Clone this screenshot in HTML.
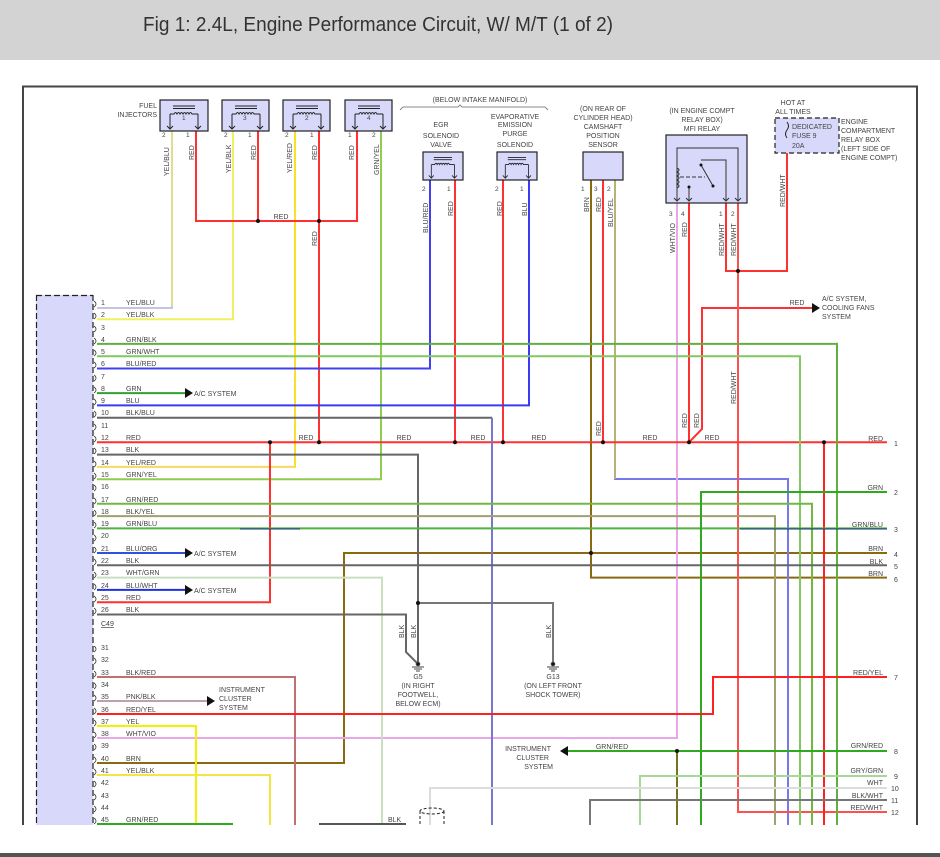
<!DOCTYPE html>
<html><head><meta charset="utf-8"><style>
html,body{margin:0;padding:0;background:#fff;}
svg{display:block;}
text{font-family:"Liberation Sans",sans-serif;fill:#444;}
</style></head><body>
<svg width="940" height="857" viewBox="0 0 940 857" xmlns="http://www.w3.org/2000/svg">
<defs>
<clipPath id="cl"><rect x="0" y="60" width="940" height="765"/></clipPath>
<g id="coil">
<line x1="13" y1="6" x2="35" y2="6" stroke="#222" stroke-width="1"/>
<line x1="13" y1="8.5" x2="35" y2="8.5" stroke="#222" stroke-width="1"/>
<path d="M10 14 L14 14 q1.5-3 3 0 q1.5-3 3 0 q1.5-3 3 0 q1.5-3 3 0 q1.5-3 3 0 q1.5-3 3 0 L38 14" fill="none" stroke="#222" stroke-width="1"/>
<path d="M10 14 V29 M38 14 V29 M7 26 L10 29 L13 26 M35 26 L38 29 L41 26" fill="none" stroke="#222" stroke-width="1"/>
</g>
</defs>
<rect x="0" y="0" width="940" height="60" fill="#d3d3d3"/>
<text x="143" y="31" font-size="20" textLength="470" lengthAdjust="spacingAndGlyphs" style="fill:#333">Fig 1: 2.4L, Engine Performance Circuit, W/ M/T (1 of 2)</text>
<rect x="0" y="853" width="940" height="4" fill="#555"/>

<g clip-path="url(#cl)" font-size="7">
<path d="M23 830 V86.5 H917 V830" fill="none" stroke="#444" stroke-width="2"/>
<rect x="36" y="295" width="57" height="540" fill="#d8d8fa"/>
<path d="M36.5 295 V835 M36 295.5 H93 M93 295 V835" fill="none" stroke="#222" stroke-width="1.2" stroke-dasharray="6,3"/>

<g fill="none" stroke-width="2">
<path d="M172 131 V308 H97" stroke="#c4c4e0"/>
<path d="M172 131 V306" stroke="#f0f060" stroke-width="1.2"/>
<path d="M233 131 V319.3 H97" stroke="#f0f060"/>
<path d="M295 131 V466.9 H97" stroke="#f8d860"/>
<path d="M295 131 V466.9" stroke="#f6e800" stroke-width="1.2"/>
<path d="M381 131 V479.2 H97" stroke="#90cc50"/>
<path d="M196 131 V221 H357 V131" stroke="#ff3030"/>
<path d="M258 131 V221 M319 131 V442.3" stroke="#ff3030"/>
<path d="M430 180 V368.5 H97" stroke="#4040f0"/>
<path d="M455 180 V442.3 M503 180 V442.3" stroke="#ff3030"/>
<path d="M529 180 V405.4 H97" stroke="#3a3af5"/>
<path d="M591 180 V577.6 H887" stroke="#8a6a10"/>
<path d="M887 553 H344 V763 H97" stroke="#8a6a10"/>
<path d="M603 180 V442.3" stroke="#ff3030"/>
<path d="M615 180 V479 H788 V830" stroke="#7777ee"/>
<path d="M615 180 V479" stroke="#f0f000" stroke-width="1"/>
<path d="M677 203 V738 H97" stroke="#e8a8e8"/>
<path d="M689 203 V442.3" stroke="#ff3030"/>
<path d="M689 442.3 L702 429 V308 H812" stroke="#ff3030"/>
<path d="M726 203 V271 H787 V153" stroke="#ff3030"/>
<path d="M738 203 V812 H887" stroke="#ff5050"/>
<path d="M97 442.3 H887" stroke="#ff3030"/>
<path d="M270 442.3 V602.2 H97" stroke="#ff3030"/>
<path d="M824 442.3 V830" stroke="#ff2020"/>
<path d="M97 343.9 H837 V830" stroke="#60b040"/>
<path d="M97 356.2 H800 V830" stroke="#80c860"/>
<path d="M97 393.1 H185" stroke="#30a030"/>
<path d="M97 417.7 H492" stroke="#666"/>
<path d="M492 417.7 V830" stroke="#7777cc"/>
<path d="M97 454.6 H418 V664" stroke="#666"/>
<path d="M418 603 H553 V664" stroke="#777"/>
<path d="M97 503.8 H812 V830" stroke="#70b840"/>
<path d="M97 516.1 H775 V830" stroke="#a0a070"/>
<path d="M97 528.4 H887" stroke="#50b040"/>
<path d="M240 529 H300 M740 529 H887" stroke="#103080" stroke-width="1"/>
<path d="M701 830 V492 H887" stroke="#30a820"/>
<path d="M97 553 H185" stroke="#3050e0"/>
<path d="M97 565.3 H887" stroke="#666"/>
<path d="M97 577.6 H382 V830" stroke="#c8e0c0"/>
<path d="M97 589.9 H185" stroke="#2030e0"/>
<path d="M97 614.5 H406 V652 L418 664" stroke="#666"/>
<path d="M97 677 H295 V830" stroke="#c07070"/>
<path d="M97 701 H207" stroke="#c0a0b0"/>
<path d="M97 714 H713 V677 H887" stroke="#ff2020"/>
<path d="M97 726 H196 V830" stroke="#f4f000"/>
<path d="M97 775 H270 V830" stroke="#f0e840"/>
<path d="M97 824 H233" stroke="#30a820"/>
<path d="M319 824 H406" stroke="#555"/>
<path d="M562 751 H887" stroke="#30a820"/>
<path d="M677 751 V830" stroke="#30a820"/>
<path d="M677 753 V830" stroke="#e02020" stroke-width="0.8"/>
<path d="M640 830 V776 H887" stroke="#a8d898"/>
<path d="M430 830 V788 H887" stroke="#dcdcdc"/>
<path d="M590 830 V800 H887" stroke="#777"/>
</g>
<g fill="#111">
<path d="M185 388 L193 393 L185 398 Z"/>
<path d="M185 548 L193 553 L185 558 Z"/>
<path d="M185 585 L193 590 L185 595 Z"/>
<path d="M207 696 L215 701 L207 706 Z"/>
<path d="M812 303 L820 308 L812 313 Z"/>
<path d="M568 746 L560 751 L568 756 Z"/>
</g>
<g fill="#111">
<circle cx="258" cy="221" r="2"/><circle cx="319" cy="221" r="2"/>
<circle cx="270" cy="442.3" r="2"/><circle cx="319" cy="442.3" r="2"/><circle cx="455" cy="442.3" r="2"/>
<circle cx="503" cy="442.3" r="2"/><circle cx="603" cy="442.3" r="2"/><circle cx="689" cy="442.3" r="2"/>
<circle cx="824" cy="442.3" r="2"/><circle cx="591" cy="553" r="2"/><circle cx="738" cy="271" r="2"/>
<circle cx="418" cy="603" r="2"/><circle cx="677" cy="751" r="2"/>
</g>
<g stroke="#444" stroke-width="1">
<circle cx="418" cy="664" r="1.8" fill="#111"/><path d="M412 667 H424 M414 669 H422 M416 671 H420"/>
<circle cx="553" cy="664" r="1.8" fill="#111"/><path d="M547 667 H559 M549 669 H557 M551 671 H555"/>
</g>
<g fill="#d8d8fa" stroke="#222" stroke-width="1.2">
<rect x="160" y="100" width="48" height="31"/><rect x="222" y="100" width="47" height="31"/>
<rect x="283" y="100" width="47" height="31"/><rect x="345" y="100" width="47" height="31"/>
<rect x="423" y="152" width="40" height="28"/><rect x="497" y="152" width="40" height="28"/>
<rect x="583" y="152" width="40" height="28"/><rect x="666" y="135" width="81" height="68"/>
</g>
<use href="#coil" transform="translate(160,100)"/><use href="#coil" transform="translate(222,100)"/>
<use href="#coil" transform="translate(283,100)"/><use href="#coil" transform="translate(345,100)"/>
<use href="#coil" transform="translate(423,152) scale(0.83,0.9)"/><use href="#coil" transform="translate(497,152) scale(0.83,0.9)"/>
<g fill="none" stroke="#333" stroke-width="1">
<path d="M677 201 V148 H738 V201 M726 201 V160 H701"/>
<path d="M677 168 q4 2 0 4 q4 2 0 4 q4 2 0 4 q4 2 0 4 q4 2 0 4"/>
<path d="M680 177 H705" stroke-dasharray="4,2"/>
<path d="M701 165 L713 186"/>
<path d="M689 201 V187"/>
<path d="M674 198 L677 201 L680 198 M686 198 L689 201 L692 198 M723 198 L726 201 L729 198 M735 198 L738 201 L741 198"/>
</g>
<g fill="#111"><circle cx="701" cy="165" r="1.5"/><circle cx="713" cy="186" r="1.5"/><circle cx="689" cy="187" r="1.5"/></g>
<rect x="775" y="118" width="64" height="35" fill="#d8d8fa" stroke="#222" stroke-width="1.2" stroke-dasharray="5,3"/>
<path d="M787 122 q3 4 0 8 q-3 4 0 8" fill="none" stroke="#222"/>
<path d="M400 110 L403 107 H458 L460 105 L462 107 H545 L548 110" fill="none" stroke="#888"/>
<ellipse cx="432" cy="811" rx="12" ry="3" fill="none" stroke="#222" stroke-dasharray="3,2"/>
<path d="M420 811 V830 M444 811 V830" stroke="#222" stroke-dasharray="3,2"/>

<g fill="none" stroke="#333" stroke-width="0.8">
<path d="M94 301 q4 3 0 6 M94 313 q4 3 0 6 M94 326 q4 3 0 6 M94 338 q4 3 0 6 M94 350 q4 3 0 6 M94 362 q4 3 0 6 M94 375 q4 3 0 6 M94 387 q4 3 0 6 M94 399 q4 3 0 6 M94 411 q4 3 0 6 M94 424 q4 3 0 6 M94 436 q4 3 0 6 M94 448 q4 3 0 6 M94 461 q4 3 0 6 M94 473 q4 3 0 6 M94 485 q4 3 0 6 M94 498 q4 3 0 6 M94 510 q4 3 0 6 M94 522 q4 3 0 6 M94 535 q4 3 0 6 M94 547 q4 3 0 6 M94 559 q4 3 0 6 M94 572 q4 3 0 6 M94 584 q4 3 0 6 M94 596 q4 3 0 6 M94 608 q4 3 0 6"/>
<path d="M94 646 q4 3 0 6 M94 658 q4 3 0 6 M94 671 q4 3 0 6 M94 683 q4 3 0 6 M94 695 q4 3 0 6 M94 708 q4 3 0 6 M94 720 q4 3 0 6 M94 732 q4 3 0 6 M94 744 q4 3 0 6 M94 757 q4 3 0 6 M94 769 q4 3 0 6 M94 781 q4 3 0 6 M94 794 q4 3 0 6 M94 806 q4 3 0 6 M94 818 q4 3 0 6"/>
</g>
<g>
<text x="101" y="305">1</text><text x="126" y="305">YEL/BLU</text>
<text x="101" y="317">2</text><text x="126" y="317">YEL/BLK</text>
<text x="101" y="330">3</text>
<text x="101" y="342">4</text><text x="126" y="342">GRN/BLK</text>
<text x="101" y="354">5</text><text x="126" y="354">GRN/WHT</text>
<text x="101" y="366">6</text><text x="126" y="366">BLU/RED</text>
<text x="101" y="379">7</text>
<text x="101" y="391">8</text><text x="126" y="391">GRN</text>
<text x="101" y="403">9</text><text x="126" y="403">BLU</text>
<text x="101" y="415">10</text><text x="126" y="415">BLK/BLU</text>
<text x="101" y="428">11</text>
<text x="101" y="440">12</text><text x="126" y="440">RED</text>
<text x="101" y="452">13</text><text x="126" y="452">BLK</text>
<text x="101" y="465">14</text><text x="126" y="465">YEL/RED</text>
<text x="101" y="477">15</text><text x="126" y="477">GRN/YEL</text>
<text x="101" y="489">16</text>
<text x="101" y="502">17</text><text x="126" y="502">GRN/RED</text>
<text x="101" y="514">18</text><text x="126" y="514">BLK/YEL</text>
<text x="101" y="526">19</text><text x="126" y="526">GRN/BLU</text>
<text x="101" y="538">20</text>
<text x="101" y="551">21</text><text x="126" y="551">BLU/ORG</text>
<text x="101" y="563">22</text><text x="126" y="563">BLK</text>
<text x="101" y="575">23</text><text x="126" y="575">WHT/GRN</text>
<text x="101" y="588">24</text><text x="126" y="588">BLU/WHT</text>
<text x="101" y="600">25</text><text x="126" y="600">RED</text>
<text x="101" y="612">26</text><text x="126" y="612">BLK</text>
<text x="101" y="626" text-decoration="underline">C49</text>
<text x="101" y="650">31</text><text x="101" y="662">32</text>
<text x="101" y="675">33</text><text x="126" y="675">BLK/RED</text>
<text x="101" y="687">34</text>
<text x="101" y="699">35</text><text x="126" y="699">PNK/BLK</text>
<text x="101" y="712">36</text><text x="126" y="712">RED/YEL</text>
<text x="101" y="724">37</text><text x="126" y="724">YEL</text>
<text x="101" y="736">38</text><text x="126" y="736">WHT/VIO</text>
<text x="101" y="748">39</text>
<text x="101" y="761">40</text><text x="126" y="761">BRN</text>
<text x="101" y="773">41</text><text x="126" y="773">YEL/BLK</text>
<text x="101" y="785">42</text><text x="101" y="798">43</text><text x="101" y="810">44</text>
<text x="101" y="822">45</text><text x="126" y="822">GRN/RED</text>
<text x="388" y="822">BLK</text>
</g>
<g text-anchor="end">
<text x="883" y="441">RED</text><text x="883" y="490">GRN</text><text x="883" y="527">GRN/BLU</text>
<text x="883" y="551">BRN</text><text x="883" y="564">BLK</text><text x="883" y="576">BRN</text>
<text x="883" y="675">RED/YEL</text><text x="883" y="748">GRN/RED</text><text x="883" y="773">GRY/GRN</text>
<text x="883" y="785">WHT</text><text x="883" y="798">BLK/WHT</text><text x="883" y="810">RED/WHT</text>
</g>
<g>
<text x="894" y="446">1</text><text x="894" y="495">2</text><text x="894" y="532">3</text>
<text x="894" y="557">4</text><text x="894" y="569">5</text><text x="894" y="582">6</text>
<text x="894" y="680">7</text><text x="894" y="754">8</text><text x="894" y="779">9</text>
<text x="891" y="791">10</text><text x="891" y="803">11</text><text x="891" y="815">12</text>
</g>
<g text-anchor="middle">
<text x="281" y="219">RED</text>
<text x="306" y="440">RED</text><text x="404" y="440">RED</text><text x="478" y="440">RED</text>
<text x="539" y="440">RED</text><text x="650" y="440">RED</text><text x="712" y="440">RED</text>
<text x="797" y="305">RED</text>
<text x="612" y="749">GRN/RED</text>
</g>
<text x="194" y="396">A/C SYSTEM</text>
<text x="194" y="556">A/C SYSTEM</text>
<text x="194" y="593">A/C SYSTEM</text>
<text x="219" y="692">INSTRUMENT</text><text x="219" y="701">CLUSTER</text><text x="219" y="710">SYSTEM</text>
<text x="822" y="301">A/C SYSTEM,</text><text x="822" y="310">COOLING FANS</text><text x="822" y="319">SYSTEM</text>
<g text-anchor="end"><text x="551" y="751">INSTRUMENT</text><text x="549" y="760">CLUSTER</text><text x="553" y="769">SYSTEM</text></g>
<g text-anchor="middle">
<text x="418" y="679">G5</text><text x="418" y="688">(IN RIGHT</text><text x="418" y="697">FOOTWELL,</text><text x="418" y="706">BELOW ECM)</text>
<text x="553" y="679">G13</text><text x="553" y="688">(ON LEFT FRONT</text><text x="553" y="697">SHOCK TOWER)</text>
</g>
<g text-anchor="end"><text x="157" y="108">FUEL</text><text x="157" y="117">INJECTORS</text></g>
<g text-anchor="middle">
<text x="480" y="102">(BELOW INTAKE MANIFOLD)</text>
<text x="441" y="127">EGR</text><text x="441" y="138">SOLENOID</text><text x="441" y="147">VALVE</text>
<text x="515" y="119">EVAPORATIVE</text><text x="515" y="127">EMISSION</text><text x="515" y="136">PURGE</text><text x="515" y="147">SOLENOID</text>
<text x="603" y="111">(ON REAR OF</text><text x="603" y="120">CYLINDER HEAD)</text><text x="603" y="129">CAMSHAFT</text><text x="603" y="138">POSITION</text><text x="603" y="147">SENSOR</text>
<text x="702" y="113">(IN ENGINE COMPT</text><text x="702" y="122">RELAY BOX)</text><text x="702" y="131">MFI RELAY</text>
<text x="793" y="105">HOT AT</text><text x="793" y="114">ALL TIMES</text>
</g>
<text x="792" y="129">DEDICATED</text><text x="792" y="138">FUSE 9</text><text x="792" y="148">20A</text>
<text x="841" y="124">ENGINE</text><text x="841" y="133">COMPARTMENT</text><text x="841" y="142">RELAY BOX</text><text x="841" y="151">(LEFT SIDE OF</text><text x="841" y="160">ENGINE COMPT)</text>
<g font-size="6.5">
<text x="182" y="120">1</text><text x="243" y="120">3</text><text x="305" y="120">2</text><text x="367" y="120">4</text>
<text x="162" y="137">2</text><text x="186" y="137">1</text><text x="224" y="137">2</text><text x="248" y="137">1</text>
<text x="285" y="137">2</text><text x="310" y="137">1</text><text x="348" y="137">1</text><text x="372" y="137">2</text>
<text x="422" y="191">2</text><text x="447" y="191">1</text><text x="495" y="191">2</text><text x="520" y="191">1</text>
<text x="581" y="191">1</text><text x="594" y="191">3</text><text x="607" y="191">2</text>
<text x="669" y="216">3</text><text x="681" y="216">4</text><text x="719" y="216">1</text><text x="731" y="216">2</text>
</g>
<g font-size="7">
<text transform="translate(169,176) rotate(-90)">YEL/BLU</text>
<text transform="translate(194,160) rotate(-90)">RED</text>
<text transform="translate(231,173) rotate(-90)">YEL/BLK</text>
<text transform="translate(256,160) rotate(-90)">RED</text>
<text transform="translate(292,173) rotate(-90)">YEL/RED</text>
<text transform="translate(317,160) rotate(-90)">RED</text>
<text transform="translate(354,160) rotate(-90)">RED</text>
<text transform="translate(379,175) rotate(-90)">GRN/YEL</text>
<text transform="translate(317,246) rotate(-90)">RED</text>
<text transform="translate(428,233) rotate(-90)">BLU/RED</text>
<text transform="translate(453,216) rotate(-90)">RED</text>
<text transform="translate(502,216) rotate(-90)">RED</text>
<text transform="translate(527,216) rotate(-90)">BLU</text>
<text transform="translate(589,212) rotate(-90)">BRN</text>
<text transform="translate(601,212) rotate(-90)">RED</text>
<text transform="translate(613,227) rotate(-90)">BLU/YEL</text>
<text transform="translate(675,253) rotate(-90)">WHT/VIO</text>
<text transform="translate(687,237) rotate(-90)">RED</text>
<text transform="translate(724,256) rotate(-90)">RED/WHT</text>
<text transform="translate(736,256) rotate(-90)">RED/WHT</text>
<text transform="translate(785,207) rotate(-90)">RED/WHT</text>
<text transform="translate(736,404) rotate(-90)">RED/WHT</text>
<text transform="translate(601,436) rotate(-90)">RED</text>
<text transform="translate(687,428) rotate(-90)">RED</text>
<text transform="translate(699,428) rotate(-90)">RED</text>
<text transform="translate(404,638) rotate(-90)">BLK</text>
<text transform="translate(416,638) rotate(-90)">BLK</text>
<text transform="translate(551,638) rotate(-90)">BLK</text>
</g>
</g>
</svg>
</body></html>
